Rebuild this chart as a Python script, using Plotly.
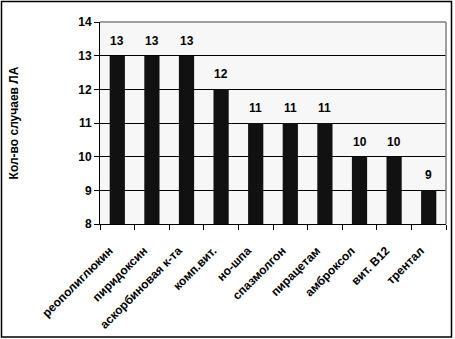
import plotly.graph_objects as go

categories = ["реополиглюкин", "пиридоксин", "аскорбиновая к-та", "комп.вит.", "но-шпа",
              "спазмолгон", "пирацетам", "амброксол", "вит. В12", "трентал"]
values = [13, 13, 13, 12, 11, 11, 11, 10, 10, 9]
y_title = "Кол-во случаев ЛА"

W, H = 455, 339
ml, mr, mt, mb = 100, 9, 22, 115

fig = go.Figure(go.Bar(
    x=categories, y=values, marker=dict(color="#111111", line=dict(width=0)),
    width=0.44, cliponaxis=False,
))

for c, v in zip(categories, values):
    fig.add_annotation(x=c, y=v, text="<b>%d</b>" % v, showarrow=False,
                       yanchor="bottom", yshift=6,
                       font=dict(family="Arial, Liberation Sans", size=12, color="black"))

pw, ph = W - ml - mr, H - mt - mb
def px(x): return (x - ml) / pw
def py(y): return 1 - (y - mt) / ph

fig.update_layout(
    width=W, height=H, margin=dict(l=ml, r=mr, t=mt, b=mb),
    paper_bgcolor="white", plot_bgcolor="#f7f7f7",
    font=dict(family="Arial, Liberation Sans", size=11, color="black"),
    showlegend=False,
    shapes=[
        dict(type="rect", xref="paper", yref="paper", x0=px(1.5), x1=px(451.5),
             y0=py(337), y1=py(1.5), line=dict(color="black", width=1.5)),
        dict(type="line", xref="paper", yref="paper", x0=1, x1=1, y0=0, y1=1,
             line=dict(color="#808080", width=1.5)),
        dict(type="line", xref="paper", yref="paper", x0=0, x1=1, y0=1, y1=1,
             line=dict(color="#808080", width=1.5)),
    ],
)
fig.update_yaxes(range=[8, 14], dtick=1, showgrid=True, gridcolor="black", gridwidth=1,
                 ticks="outside", ticklen=5, tickcolor="black", showline=True,
                 linecolor="black", linewidth=1, zeroline=False, automargin=False,
                 tickfont=dict(size=12), tickprefix="<b>", ticksuffix="</b>",
                 title=dict(text="<b>" + y_title + "</b>", standoff=57,
                            font=dict(size=12)))
fig.update_xaxes(tickangle=-45, ticks="outside", tickson="boundaries", ticklen=5,
                 tickcolor="black", showline=True, linecolor="black", linewidth=1,
                 automargin=False,
                 tickfont=dict(size=12), tickprefix="<b>", ticksuffix="</b>",
                 ticklabelstandoff=14, ticklabelshift=-8)

fig.write_html("out.html")
